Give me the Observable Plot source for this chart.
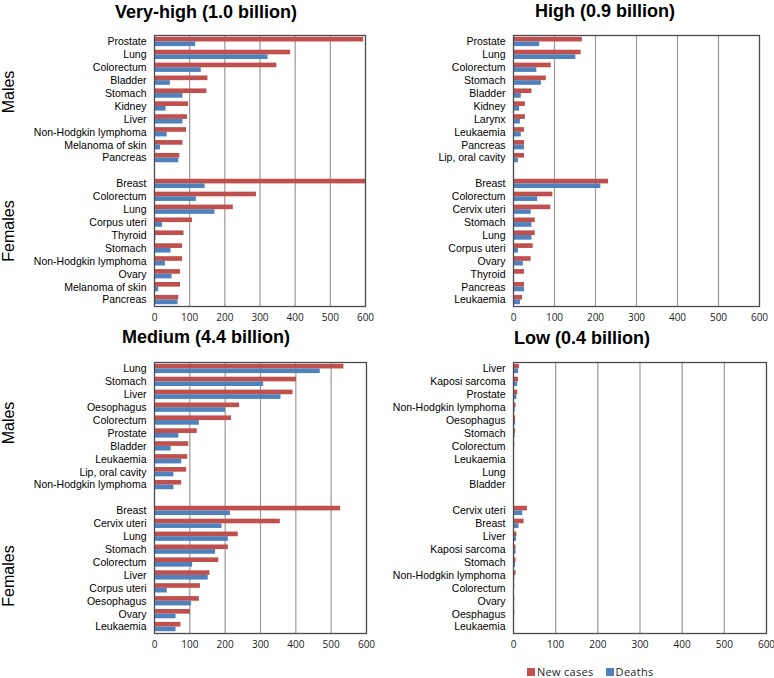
<!DOCTYPE html>
<html>
<head>
<meta charset="utf-8">
<script src="https://cdn.jsdelivr.net/npm/d3@7"></script>
<script src="https://cdn.jsdelivr.net/npm/@observablehq/plot@0.6"></script>
<style>
  html, body { margin: 0; padding: 0; background: #fff; }
  #root { position: relative; width: 774px; height: 678px; overflow: hidden; background: #fff; font-family: "Liberation Sans", Arial, sans-serif; }
  .panel { position: absolute; }
  .title { position: absolute; font-weight: bold; font-size: 18px; color: #000; white-space: nowrap; transform: translate(-50%, -50%); }
  .side { position: absolute; font-size: 16px; color: #000; white-space: nowrap; transform: translate(-50%, -50%) rotate(-90deg); }
  #legend { position: absolute; left: 527px; top: 666px; height: 11px; line-height: 11px; font-family: "Open Sans", sans-serif; font-size: 11px; color: #222; display: flex; align-items: center; white-space: nowrap; letter-spacing: 0.3px; }
  #legend .sw { display: inline-block; width: 8px; height: 8px; margin-right: 2px; }
  #legend .item { display: flex; align-items: center; margin-right: 12px; height: 11px; line-height: 11px; }
</style>
</head>
<body>
<div id="root"></div>
<script>
// ---------- data ----------
const xTicks = [0, 100, 200, 300, 400, 500, 600];
const seriesNames = ["New cases", "Deaths"];
const seriesColors = ["#c0504d", "#4f81bd"];

// Very-high (1.0 billion)
const veryHighMaleSites = ["Prostate", "Lung", "Colorectum", "Bladder", "Stomach", "Kidney", "Liver", "Non-Hodgkin lymphoma", "Melanoma of skin", "Pancreas"];
const veryHighMaleNew = [595, 387, 348, 152, 149, 97, 94, 91, 81, 72];
const veryHighMaleDeaths = [117, 323, 133, 45, 81, 33, 81, 36, 17, 69];
const veryHighFemaleSites = ["Breast", "Colorectum", "Lung", "Corpus uteri", "Thyroid", "Stomach", "Non-Hodgkin lymphoma", "Ovary", "Melanoma of skin", "Pancreas"];
const veryHighFemaleNew = [600, 290, 224, 108, 84, 80, 80, 74, 74, 69];
const veryHighFemaleDeaths = [144, 119, 172, 23, 4, 47, 31, 50, 12, 67];

// High (0.9 billion)
const highMaleSites = ["Prostate", "Lung", "Colorectum", "Stomach", "Bladder", "Kidney", "Larynx", "Leukaemia", "Pancreas", "Lip, oral cavity"];
const highMaleNew = [168, 165, 92, 80, 45, 29, 29, 27, 27, 27];
const highMaleDeaths = [64, 152, 57, 68, 19, 15, 17, 19, 27, 12];
const highFemaleSites = ["Breast", "Colorectum", "Cervix uteri", "Stomach", "Lung", "Corpus uteri", "Ovary", "Thyroid", "Pancreas", "Leukaemia"];
const highFemaleNew = [232, 96, 91, 53, 53, 48, 43, 27, 27, 22];
const highFemaleDeaths = [213, 59, 43, 45, 45, 12, 24, 2, 27, 17];

// Medium (4.4 billion)
const mediumMaleSites = ["Lung", "Stomach", "Liver", "Oesophagus", "Colorectum", "Prostate", "Bladder", "Leukaemia", "Lip, oral cavity", "Non-Hodgkin lymphoma"];
const mediumMaleNew = [536, 402, 392, 241, 218, 121, 97, 94, 91, 77];
const mediumMaleDeaths = [469, 309, 358, 201, 127, 69, 47, 77, 55, 55];
const mediumFemaleSites = ["Breast", "Cervix uteri", "Lung", "Stomach", "Colorectum", "Liver", "Corpus uteri", "Oesophagus", "Ovary", "Leukaemia"];
const mediumFemaleNew = [527, 356, 237, 209, 182, 157, 130, 127, 102, 75];
const mediumFemaleDeaths = [215, 191, 209, 173, 108, 152, 36, 105, 61, 61];

// Low (0.4 billion)
const lowMaleSites = ["Liver", "Kaposi sarcoma", "Prostate", "Non-Hodgkin lymphoma", "Oesophagus", "Stomach", "Colorectum", "Leukaemia", "Lung", "Bladder"];
const lowMaleNew = [14, 12, 10, 6, 5, 5, 3, 2.5, 2, 2];
const lowMaleDeaths = [12, 10, 8, 4, 5, 4, 2, 2, 2, 1];
const lowFemaleSites = ["Cervix uteri", "Breast", "Liver", "Kaposi sarcoma", "Stomach", "Non-Hodgkin lymphoma", "Colorectum", "Ovary", "Oesphagus", "Leukaemia"];
const lowFemaleNew = [33, 25, 8, 6, 6, 6, 3, 3, 3, 1.5];
const lowFemaleDeaths = [22, 13, 7, 6, 5, 3, 2, 2, 2, 1];

const panelTitles = ["Very-high (1.0 billion)", "High (0.9 billion)", "Medium (4.4 billion)", "Low (0.4 billion)"];
const sexLabels = ["Males", "Females"];

// ---------- build ----------
function rows(mSites, mNew, mDeaths, fSites, fNew, fDeaths) {
  const out = [];
  mSites.forEach((s, i) => out.push({key: "M" + i, label: s, newCases: mNew[i], deaths: mDeaths[i]}));
  fSites.forEach((s, i) => out.push({key: "F" + i, label: s, newCases: fNew[i], deaths: fDeaths[i]}));
  return out;
}

const panels = [
  {data: rows(veryHighMaleSites, veryHighMaleNew, veryHighMaleDeaths, veryHighFemaleSites, veryHighFemaleNew, veryHighFemaleDeaths),
   left: 0, top: 25, width: 380, mL: 154, mR: 15},
  {data: rows(highMaleSites, highMaleNew, highMaleDeaths, highFemaleSites, highFemaleNew, highFemaleDeaths),
   left: 380, top: 25, width: 394, mL: 133, mR: 15},
  {data: rows(mediumMaleSites, mediumMaleNew, mediumMaleDeaths, mediumFemaleSites, mediumFemaleNew, mediumFemaleDeaths),
   left: 0, top: 352, width: 380, mL: 154, mR: 14},
  {data: rows(lowMaleSites, lowMaleNew, lowMaleDeaths, lowFemaleSites, lowFemaleNew, lowFemaleDeaths),
   left: 380, top: 352, width: 394, mL: 133, mR: 8}
];

const root = document.getElementById("root");
const H = 305, mT = 10, mB = 24;
const bandStep = (H - mT - mB) / 21;
const bw = bandStep * 0.72;

panels.forEach((p, idx) => {
  const domain = [...p.data.filter(d => d.key[0] === "M").map(d => d.key), "gap", ...p.data.filter(d => d.key[0] === "F").map(d => d.key)];
  const labelOf = new Map(p.data.map(d => [d.key, d.label]));
  const chart = Plot.plot({
    width: p.width,
    height: H,
    marginTop: mT,
    marginBottom: mB,
    marginLeft: p.mL,
    marginRight: p.mR,
    style: {fontFamily: "'Liberation Sans', Arial, sans-serif", fontSize: "10.5px", background: "transparent", color: "#000"},
    x: {domain: [0, 600], clamp: true},
    y: {domain, paddingInner: 0.28, paddingOuter: 0.14, round: false},
    marks: [
      Plot.ruleX(xTicks.filter(t => t > 0 && t < 600), {stroke: "#9a9a9a", strokeWidth: 1.2}),
      Plot.barX(p.data, {x: "newCases", y: "key", fill: seriesColors[0], insetBottom: bw / 2}),
      Plot.barX(p.data, {x: "deaths", y: "key", fill: seriesColors[1], insetTop: bw / 2}),
      Plot.frame({stroke: "#4a4a4a", strokeWidth: 1.3}),
      Plot.axisY({tickSize: 0, tickPadding: 8, label: null, tickFormat: k => labelOf.get(k) || "", fill: "#000", fontSize: 10.5}),
      Plot.axisX({ticks: xTicks, tickSize: 0, tickPadding: 7, label: null, tickFormat: d => String(d), fontFamily: "'Open Sans', sans-serif", fontSize: 10, fill: "#222"})
    ]
  });
  chart.classList.add("panel");
  chart.style.left = p.left + "px";
  chart.style.top = p.top + "px";
  root.appendChild(chart);
});

// titles
const titlePos = [[206, 12], [605, 11], [206, 337], [582, 338]];
panelTitles.forEach((t, i) => {
  const d = document.createElement("div");
  d.className = "title";
  d.textContent = t;
  d.style.left = titlePos[i][0] + "px";
  d.style.top = titlePos[i][1] + "px";
  root.appendChild(d);
});

// side labels
const sidePos = [[9, 92, 0], [9, 231, 1], [9, 423, 0], [9, 576, 1]];
sidePos.forEach(([x, y, s]) => {
  const d = document.createElement("div");
  d.className = "side";
  d.textContent = sexLabels[s];
  d.style.left = x + "px";
  d.style.top = y + "px";
  root.appendChild(d);
});

// legend
const leg = document.createElement("div");
leg.id = "legend";
seriesNames.forEach((n, i) => {
  const item = document.createElement("span");
  item.className = "item";
  const sw = document.createElement("span");
  sw.className = "sw";
  sw.style.background = seriesColors[i];
  item.appendChild(sw);
  const tx = document.createElement("span");
  tx.textContent = n;
  item.appendChild(tx);
  leg.appendChild(item);
});
root.appendChild(leg);
</script>
</body>
</html>
